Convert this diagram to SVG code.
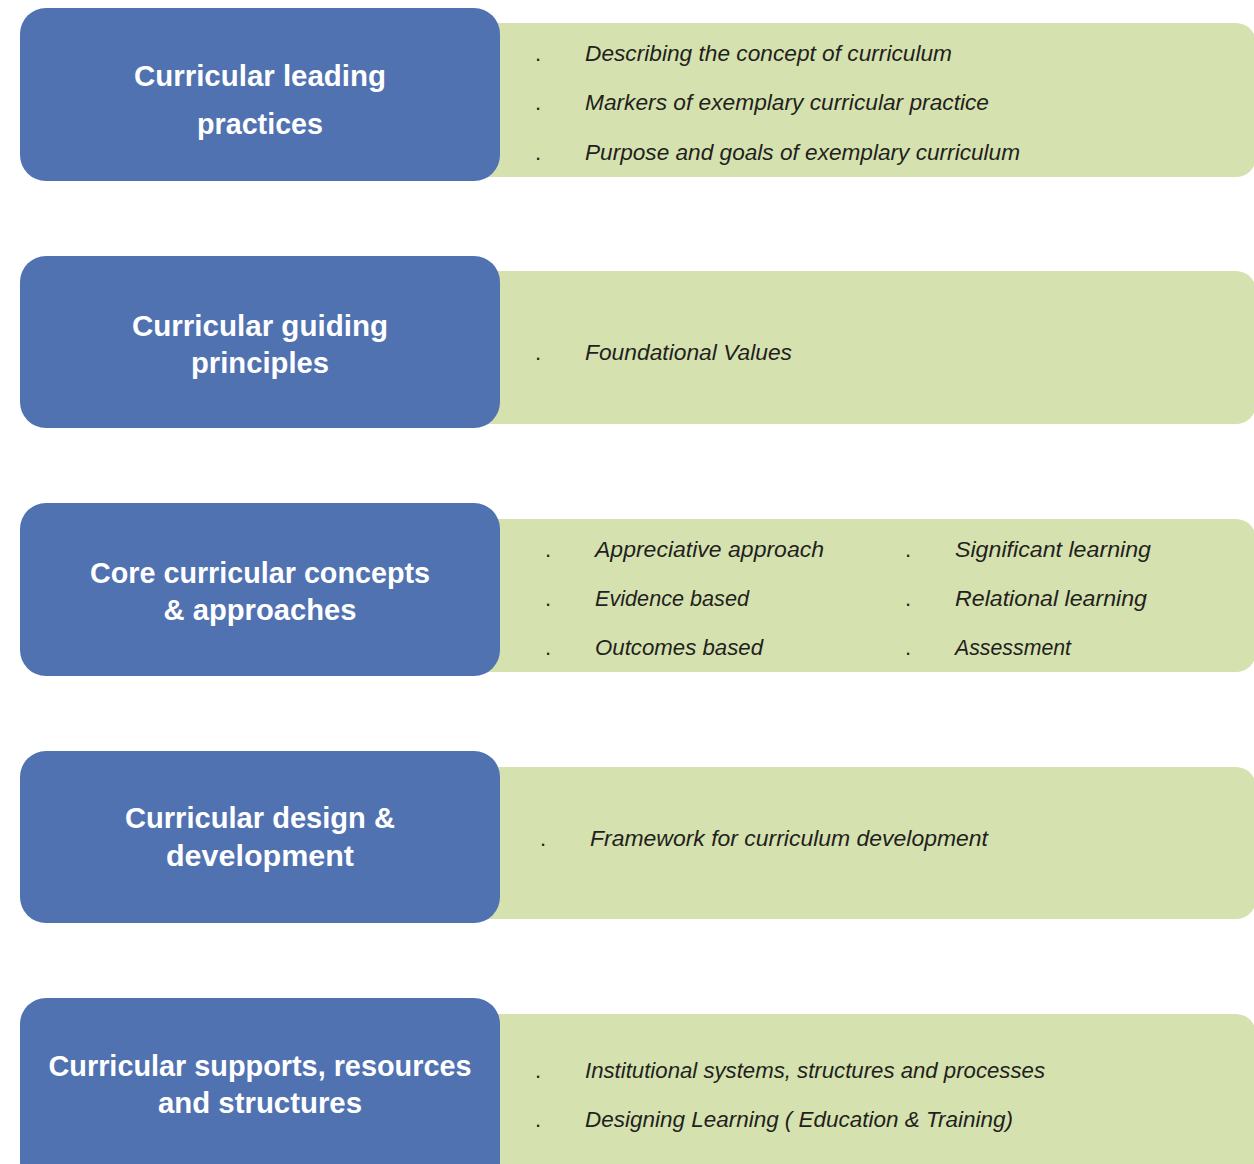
<svg xmlns="http://www.w3.org/2000/svg" width="1254" height="1164" viewBox="0 0 1254 1164">
  <style>
    .panel { fill: #D5E2AF; }
    .head { fill: #5072B1; }
    .title { font-family: "Liberation Sans", Arial, sans-serif; font-weight: bold; font-size: 29px; fill: #FFFFFF; text-anchor: middle; }
    .item { font-family: "Liberation Sans", Arial, sans-serif; font-style: italic; font-size: 22px; fill: #231F20; }
    .dot { font-family: "Liberation Sans", Arial, sans-serif; font-size: 22px; fill: #231F20; }
  </style>

  <rect width="1254" height="1164" fill="#FFFFFF"/>

  <!-- Row 1 -->
  <g id="leading-practices">
    <rect class="panel" x="470" y="23" width="786" height="154" rx="20"/>
    <rect class="head" x="20" y="8" width="480" height="173" rx="26"/>
    <text class="title" x="260" y="86" textLength="252" lengthAdjust="spacingAndGlyphs">Curricular leading</text>
    <text class="title" x="260" y="134" textLength="126" lengthAdjust="spacingAndGlyphs">practices</text>
    <text class="dot" x="535" y="61">.</text>
    <text class="item" x="585" y="61" textLength="367" lengthAdjust="spacingAndGlyphs">Describing the concept of curriculum</text>
    <text class="dot" x="535" y="110">.</text>
    <text class="item" x="585" y="110" textLength="404" lengthAdjust="spacingAndGlyphs">Markers of exemplary curricular practice</text>
    <text class="dot" x="535" y="160">.</text>
    <text class="item" x="585" y="160" textLength="435" lengthAdjust="spacingAndGlyphs">Purpose and goals of exemplary curriculum</text>
  </g>

  <!-- Row 2 -->
  <g id="guiding-principles">
    <rect class="panel" x="470" y="271" width="786" height="153" rx="20"/>
    <rect class="head" x="20" y="256" width="480" height="172" rx="26"/>
    <text class="title" x="260" y="336" textLength="256" lengthAdjust="spacingAndGlyphs">Curricular guiding</text>
    <text class="title" x="260" y="373" textLength="138" lengthAdjust="spacingAndGlyphs">principles</text>
    <text class="dot" x="535" y="360">.</text>
    <text class="item" x="585" y="360" textLength="207" lengthAdjust="spacingAndGlyphs">Foundational Values</text>
  </g>

  <!-- Row 3 -->
  <g id="core-concepts">
    <rect class="panel" x="470" y="519" width="786" height="153" rx="20"/>
    <rect class="head" x="20" y="503" width="480" height="173" rx="26"/>
    <text class="title" x="260" y="583" textLength="340" lengthAdjust="spacingAndGlyphs">Core curricular concepts</text>
    <text class="title" x="260" y="620" textLength="193" lengthAdjust="spacingAndGlyphs">&amp; approaches</text>
    <text class="dot" x="545" y="557">.</text>
    <text class="item" x="595" y="557" textLength="229" lengthAdjust="spacingAndGlyphs">Appreciative approach</text>
    <text class="dot" x="545" y="606">.</text>
    <text class="item" x="595" y="606" textLength="154" lengthAdjust="spacingAndGlyphs">Evidence based</text>
    <text class="dot" x="545" y="655">.</text>
    <text class="item" x="595" y="655" textLength="168" lengthAdjust="spacingAndGlyphs">Outcomes based</text>
    <text class="dot" x="905" y="557">.</text>
    <text class="item" x="955" y="557" textLength="196" lengthAdjust="spacingAndGlyphs">Significant learning</text>
    <text class="dot" x="905" y="606">.</text>
    <text class="item" x="955" y="606" textLength="192" lengthAdjust="spacingAndGlyphs">Relational learning</text>
    <text class="dot" x="905" y="655">.</text>
    <text class="item" x="955" y="655" textLength="116" lengthAdjust="spacingAndGlyphs">Assessment</text>
  </g>

  <!-- Row 4 -->
  <g id="design-development">
    <rect class="panel" x="470" y="767" width="786" height="152" rx="20"/>
    <rect class="head" x="20" y="751" width="480" height="172" rx="26"/>
    <text class="title" x="260" y="828" textLength="270" lengthAdjust="spacingAndGlyphs">Curricular design &amp;</text>
    <text class="title" x="260" y="866" textLength="188" lengthAdjust="spacingAndGlyphs">development</text>
    <text class="dot" x="540" y="846">.</text>
    <text class="item" x="590" y="846" textLength="398" lengthAdjust="spacingAndGlyphs">Framework for curriculum development</text>
  </g>

  <!-- Row 5 -->
  <g id="supports-resources">
    <rect class="panel" x="470" y="1014" width="786" height="170" rx="20"/>
    <rect class="head" x="20" y="998" width="480" height="190" rx="26"/>
    <text class="title" x="260" y="1076" textLength="423" lengthAdjust="spacingAndGlyphs">Curricular supports, resources</text>
    <text class="title" x="260" y="1113" textLength="204" lengthAdjust="spacingAndGlyphs">and structures</text>
    <text class="dot" x="535" y="1078">.</text>
    <text class="item" x="585" y="1078" textLength="460" lengthAdjust="spacingAndGlyphs">Institutional systems, structures and processes</text>
    <text class="dot" x="535" y="1127">.</text>
    <text class="item" x="585" y="1127" textLength="428" lengthAdjust="spacingAndGlyphs">Designing Learning ( Education &amp; Training)</text>
  </g>

  <!-- No connectors between rows -->
  <g id="connectors"/>
</svg>
